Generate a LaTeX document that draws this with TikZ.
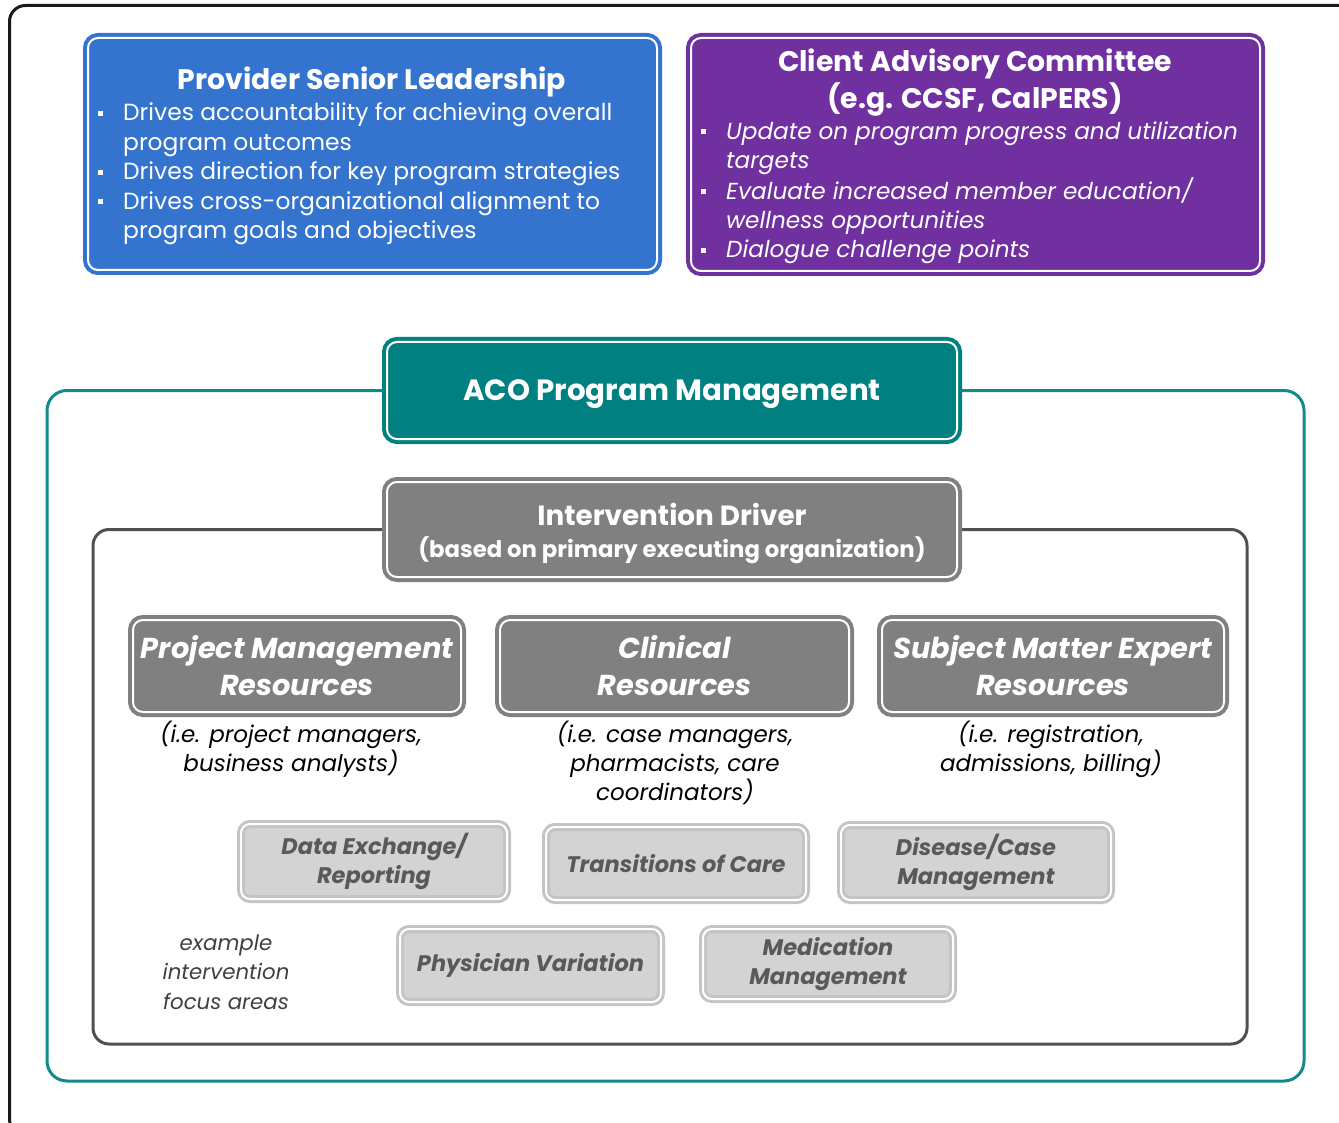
\documentclass[tikz,border=0pt]{standalone}
\usepackage{fontspec}
\setmainfont{Poppins}
\usetikzlibrary{backgrounds}

\definecolor{provblue}{HTML}{3474CE}
\definecolor{clientpurple}{HTML}{7030A0}
\definecolor{acoteal}{HTML}{008080}
\definecolor{frameteal}{HTML}{12898A}
\definecolor{midgray}{HTML}{808080}
\definecolor{framegray}{HTML}{505050}
\definecolor{lightfill}{HTML}{D3D3D3}
\definecolor{lightring}{HTML}{C4C4C4}
\definecolor{lighttext}{HTML}{595959}
\definecolor{notetext}{HTML}{404040}
\definecolor{outerframe}{HTML}{1A1A1A}

\newcommand{\fs}[2]{\fontsize{#1}{#2}\selectfont}
\newcommand{\sqbullet}{\raisebox{0.22em}{\rule{5pt}{5pt}}}

\begin{document}
\begin{tikzpicture}[x=1pt,y=-1pt,
  panel/.style={rounded corners=10pt, draw=#1, fill=#1, double=white,
    double distance=2pt, line width=4pt, inner sep=0pt, outer sep=0pt,
    text=white, align=center},
  resbox/.style={panel=midgray, font=\fs{28.8}{37}\bfseries\itshape},
  areabox/.style={rounded corners=9pt, draw=lightring, fill=lightfill, double=white,
    double distance=2pt, line width=3pt, inner sep=0pt, outer sep=0pt,
    text=lighttext, align=center, font=\fs{22.5}{29.5}\bfseries\itshape},
  caption/.style={align=center, inner sep=0pt, font=\fs{23}{29}\itshape, text=black},
  bullets/.style={anchor=base west, inner sep=0pt, text=white},
  frameline/.style={line width=3pt, rounded corners=#1},
]
\useasboundingbox (0,0) rectangle (1339,1123);

% page frame, running off the right and bottom edges
\begin{scope}
  \clip (0,0) rectangle (1339,1123);
  \draw[outerframe, line width=3pt, rounded corners=16pt] (9.5,5.5) rectangle (1400,1135);
\end{scope}

% governance panels
\node[panel=provblue, minimum width=569pt, minimum height=232pt] (prov) at (372.5,154) {};
\node[text=white, font=\fs{28.3}{36}\bfseries, inner sep=0pt] (provtitle) at (372,81.5) {Provider Senior Leadership};
\node[bullets] (provlist) at (98,121) {\fs{23.4}{29.5}%
  \begin{tabular}[t]{@{}l@{\hspace{20pt}}l@{}}
  \sqbullet & Drives accountability for achieving overall\\
            & program outcomes\\
  \sqbullet & Drives direction for key program strategies\\
  \sqbullet & Drives cross-organizational alignment to\\
            & program goals and objectives
  \end{tabular}};

\node[panel=clientpurple, minimum width=569pt, minimum height=233pt] (client) at (975.5,154.5) {};
\node[text=white, font=\fs{28.3}{37}\bfseries, inner sep=0pt, align=center] (clienttitle) at (975,83)
  {Client Advisory Committee\\(e.g. CCSF, CalPERS)};
\node[bullets] (clientlist) at (701,139.5) {\fs{23.2}{29.25}\itshape%
  \begin{tabular}[t]{@{}l@{\hspace{20pt}}l@{}}
  \sqbullet & Update on program progress and utilization\\
            & targets\\
  \sqbullet & Evaluate increased member education/\\
            & wellness opportunities\\
  \sqbullet & Dialogue challenge points
  \end{tabular}};

% program management
\node[panel=acoteal, minimum width=570pt, minimum height=97pt] (aco) at (672,390.5) {};
\node[text=white, font=\fs{29.3}{34}\bfseries, inner sep=0pt] (acotitle) at (672,394.5) {ACO Program Management};

\node[panel=midgray, minimum width=570pt, minimum height=95pt] (driver) at (672,529.5) {};
\node[text=white, font=\fs{27.8}{30}\bfseries, inner sep=0pt] (drivertitle) at (672,514) {Intervention Driver};
\node[text=white, font=\fs{22.8}{26}\bfseries, inner sep=0pt] (driversub) at (672,550) {(based on primary executing organization)};

% resource groups
\node[resbox, minimum width=328pt, minimum height=92pt] (pm) at (297,666) {Project Management\\Resources};
\node[resbox, minimum width=349pt, minimum height=92pt] (clin) at (674.5,666) {Clinical\\Resources};
\node[resbox, minimum width=342pt, minimum height=92pt] (sme) at (1053,666) {Subject Matter Expert\\Resources};

\node[caption] (pmnote) at (291,749) {(i.e. project managers,\\business analysts)};
\node[caption] (clinnote) at (675,763) {(i.e. case managers,\\pharmacists, care\\coordinators)};
\node[caption] (smenote) at (1051,749) {(i.e. registration,\\admissions, billing)};

% example intervention focus areas
\node[areabox, minimum width=266pt, minimum height=75pt] (dex) at (374,861.5) {Data Exchange/\\Reporting};
\node[areabox, minimum width=260pt, minimum height=73pt] (toc) at (676,863.5) {Transitions of Care};
\node[areabox, minimum width=270pt, minimum height=75pt] (dcm) at (976,862.5) {Disease/Case\\Management};
\node[areabox, minimum width=261pt, minimum height=73pt] (phv) at (530.5,965.5) {Physician Variation};
\node[areabox, minimum width=250pt, minimum height=70pt] (med) at (828,964) {Medication\\Management};

\node[caption, text=notetext, font=\fs{21.3}{29.5}\itshape] (areanote) at (226,972) {example\\intervention\\focus areas};

% enclosing frames hung from the title boxes
\begin{scope}[on background layer]
  \draw[frameteal, frameline=20pt] (aco.west) -| (47,1081) -| (1304,390.5) -- (aco.east);
  \draw[framegray, frameline=16pt] (driver.west) -| (93,1044) -| (1247,529.5) -- (driver.east);
\end{scope}
\end{tikzpicture}
\end{document}
